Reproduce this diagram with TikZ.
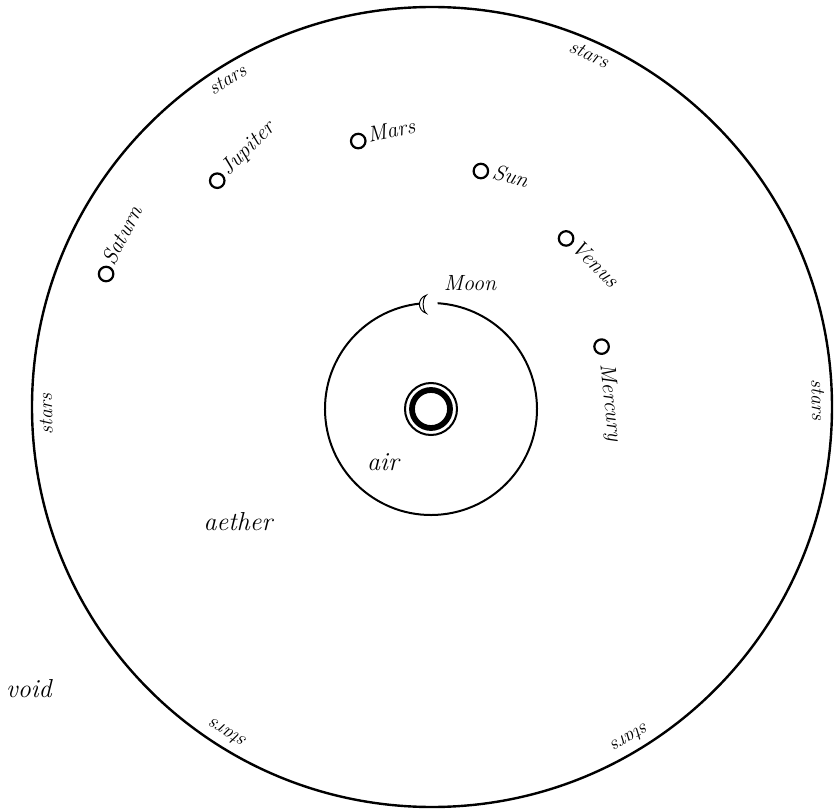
\documentclass[tikz,border=0pt]{standalone}
\usepackage{tikz}
\usetikzlibrary{positioning}
\tikzset{
  sphere/.style={draw=black, line width=2.4pt},
  orbit/.style={draw=black, line width=2pt},
  planet/.style={circle, draw=black, line width=2.2pt, minimum size=14.5pt, inner sep=0pt},
  plabel/.style={font=\fontsize{22}{26}\selectfont\itshape, inner sep=0pt, anchor=base west},
  starlbl/.style={font=\fontsize{20}{24}\selectfont\itshape, inner sep=0pt},
  region/.style={font=\fontsize{26}{30}\selectfont\itshape, inner sep=0pt}
}

\begin{document}
\begin{tikzpicture}[x=1pt, y=1pt]
  \useasboundingbox (-432,-402) rectangle (403,407);

  % Sphere of the stars
  \draw[sphere] (0,0) circle (400);
  \node[starlbl, rotate=-89] (st1) at (1:386) {stars};
  \node[starlbl, rotate=-24] (st2) at (66:386) {stars};
  \node[starlbl, rotate=32] (st3) at (122:386) {stars};
  \node[starlbl, rotate=91] (st4) at (181:386) {stars};
  \node[starlbl, rotate=148] (st5) at (238:386) {stars};
  \node[starlbl, rotate=211] (st6) at (301:386) {stars};

  % Earth and the Moon
  \coordinate (earth) at (-1,-2);
  \draw[line width=2pt] (earth) circle (26);
  \draw[line width=5.8pt] (earth) circle (19);
  \draw[orbit] (earth) ++(96:106) arc (96:446.4:106);
  \path (earth) ++(94:105) coordinate (moon);
  \draw[line width=1pt, fill=white] (moon) ++(2.5,9)
    .. controls +(-9,-3) and +(-9,3) .. ++(0,-18)
    .. controls +(-4,3) and +(-4,-3) .. ++(0,18) -- cycle;
  \node[plabel, anchor=center] (moonlbl) at (38,124) {Moon};

  % Planets
  \node[planet] (saturn) at (157.8:352) {};
  \node[planet] (jupiter) at (133.5:312) {};
  \node[planet] (mars) at (105.5:276) {};
  \node[planet] (sun) at (78.3:241) {};
  \node[planet] (venus) at (51.5:215.4) {};
  \node[planet] (mercury) at (19.6:180) {};

  \path (saturn) ++(63:10) ++(-27:4) node[plabel, rotate=63] {Saturn};
  \path (jupiter) ++(45:11) ++(-45:5) node[plabel, rotate=45] {Jupiter};
  \path (mars) ++(12:10) ++(-78:4) node[plabel, rotate=12] {Mars};
  \path (sun) ++(-16:12) ++(-106:4) node[plabel, rotate=-16] {Sun};
  \path (venus) ++(-45:10) ++(-135:4) node[plabel, rotate=-45] {Venus};
  \path (mercury) ++(-84:17) ++(-174:3) node[plabel, rotate=-84] {Mercury};

  % Regions
  \node[region] (air) at (-49,-55) {air};
  \node[region] (aether) at (-194,-115) {aether};
  \node[region] (void) at (-403,-282) {void};
\end{tikzpicture}
\end{document}
